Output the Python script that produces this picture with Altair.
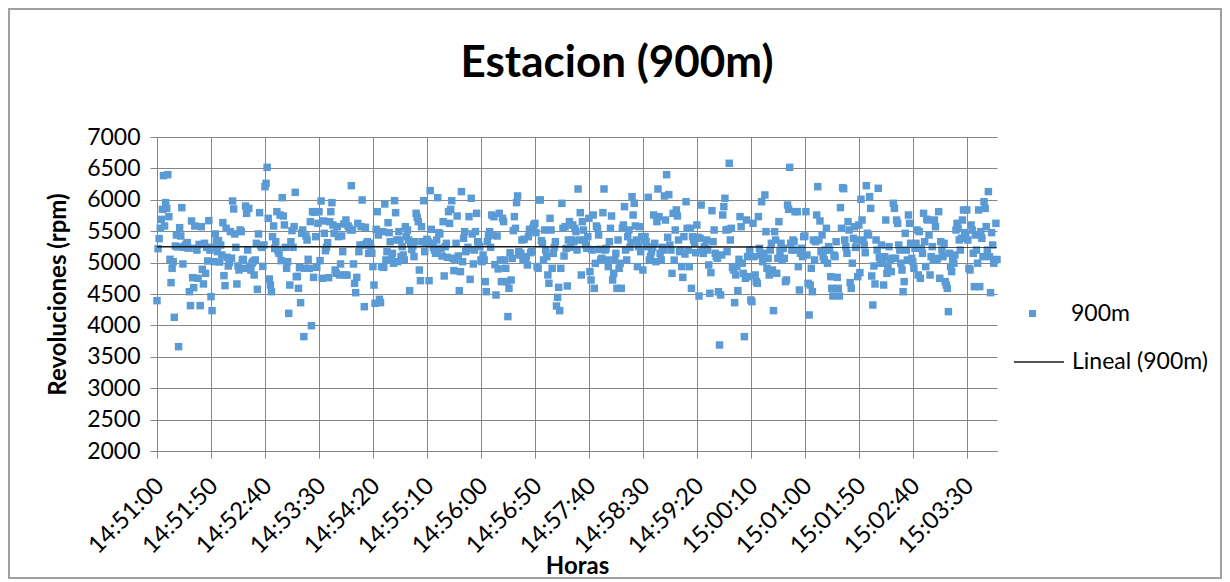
import json
import altair as alt
import pandas as pd

# ---------------- data ----------------
START = "2000-01-01 14:51:00"
TICK_LABELS = ["14:51:00", "14:51:50", "14:52:40", "14:53:30", "14:54:20", "14:55:10",
               "14:56:00", "14:56:50", "14:57:40", "14:58:30", "14:59:20", "15:00:10",
               "15:01:00", "15:01:50", "15:02:40", "15:03:30"]
Y_TICKS = [2000, 2500, 3000, 3500, 4000, 4500, 5000, 5500, 6000, 6500, 7000]

RPM_1 = [
    4394, 5222, 5381, 5546, 5689, 5848, 6385, 5583, 5955, 5864,
    6400, 5732, 5052, 4681, 4909, 5015, 4129, 5264, 5440, 5250,
    3662, 5556, 5424, 5875, 4978, 5243, 5265, 5290, 5318, 5230,
    4537, 4315, 5663, 4760, 4601, 5583, 5227, 5200, 4750, 5290,
    4315, 5572, 4893, 4660, 5307, 4829, 5243, 5026, 5668, 5200,
    4458, 4235, 5243, 5015, 5456, 5333, 5174, 5350, 5010, 5280,
    5121, 5636, 4792, 4633, 5546, 5084, 4946, 5000, 5493, 5070,
    5981, 5854, 5456, 5243, 4660, 4946, 4882, 5519, 5493, 5042,
    5052, 4909, 5901, 5785, 5200, 5864, 4946, 4880, 4990, 5020,
    4803, 5042, 5307, 4574, 5456, 5795, 5270, 5243, 4940, 5280,
    6209, 6262, 6517, 5705, 4739, 4643, 4537, 5413, 5583, 5227,
    5333, 5811, 5190, 5148, 5758, 5031, 6034, 5742, 5600, 5243,
    4909, 5015, 4192, 4643, 5333, 5509, 5243, 5572, 6119, 4776,
    4780, 4590, 4919, 4362, 5466, 5519, 3821, 4910, 5424, 5360,
    5052, 4909, 5652, 3996, 5811, 4765, 5800, 5413, 4925, 5625,
    5811, 5031, 5981, 4750, 5663, 5466, 5190, 5243, 5318, 4760,
    5652, 5811, 5955, 5599, 5466, 4882, 4829, 5572, 5413, 4803,
    4978, 5424, 5174, 5615, 4803, 5678, 4800, 5583, 5546, 5520,
    6225, 5519, 4978, 4670, 4521, 4765, 5625, 5174, 5280, 5572,
    5997, 5280, 4298, 5562, 5307, 5333, 5148, 5307, 5243, 5148,
]
RPM_2 = [
    4936, 4643, 4352, 5530, 5811, 5440, 4415, 4362, 4936, 5493,
    4925, 5933, 5042, 5174, 5636, 5477, 5333, 5050, 5148, 4990,
    5986, 5795, 5360, 5015, 5493, 5360, 5095, 5254, 5121, 5042,
    5572, 5413, 5519, 5360, 4553, 5318, 5211, 5265, 5095, 5333,
    5785, 5721, 5652, 4882, 4712, 5572, 5333, 5986, 5174, 5307,
    5371, 5333, 4712, 6146, 5530, 5307, 5243, 5200, 5148, 5360,
    6034, 5477, 5456, 5227, 5105, 5652, 4787, 5254, 5307, 5084,
    5811, 5625, 5848, 5986, 5068, 4872, 5042, 5307, 5742, 5105,
    4553, 4856, 6130, 5015, 5387, 5493, 5174, 5200, 5243, 5732,
    4734, 6024, 5456, 4978, 5200, 5493, 5785, 5333, 5280, 5254,
    5042, 5015, 5121, 5042, 4697, 4537, 5333, 5424, 5493, 5243,
    5758, 5440, 5730, 4967, 4484, 5424, 4900, 5785, 5042, 4697,
    5705, 5652, 5042, 4909, 4697, 4140, 4590, 5158, 4723, 5068,
    5509, 5732, 5546, 5955, 6061, 5174, 5121, 5148, 5360, 5042,
    5371, 5042, 5095, 4962, 5413, 5530, 5158, 5174, 5546, 5599,
    5625, 5477, 4936, 4909, 5997, 5997, 5350, 5307, 5042, 5519,
    5200, 5095, 4803, 4670, 5705, 5519, 4909, 5148, 5243, 5333,
    4309, 4447, 4606, 4235, 4909, 5944, 5546, 5105, 5572, 5227,
    4628, 5360, 5652, 5243, 5360, 5599, 5333, 5546, 5493, 5200,
    6172, 5360, 5795, 4803, 5652, 5519, 5360, 5280, 5227, 5413,
]
RPM_3 = [
    5705, 4856, 4723, 5200, 5758, 4590, 4988, 5583, 5546, 5440,
    5211, 5042, 5068, 5795, 6172, 5200, 5227, 5042, 4936, 5333,
    5546, 5742, 4723, 4829, 5042, 5148, 4590, 5360, 4909, 4988,
    4590, 5546, 5599, 5891, 5200, 5042, 5413, 5519, 5243, 5318,
    6050, 5758, 5944, 5583, 5360, 4936, 5254, 5572, 5174, 5413,
    4882, 5360, 5413, 5333, 5254, 6039, 5042, 5095, 5174, 5243,
    5758, 5307, 5015, 5652, 6172, 5732, 5148, 5042, 5243, 5200,
    6061, 5678, 6400, 5403, 6082, 5280, 5200, 4829, 5785, 5040,
    5519, 5838, 5742, 5360, 5174, 5200, 4936, 4765, 5413, 5137,
    5970, 5546, 5200, 4936, 5546, 4590, 5413, 5360, 5307, 5158,
    5599, 5403, 4468, 5387, 5917, 5200, 5148, 5254, 5227, 5360,
    5200, 4962, 4511, 4840, 5827, 5333, 5519, 5148, 5095, 5068,
    4537, 3688, 4484, 5121, 5758, 5891, 6024, 5519, 5174, 5530,
    6581, 5360, 5546, 4925, 4882, 4362, 4803, 4936, 4553, 5052,
    5732, 5572, 4990, 4829, 3821, 4750, 5678, 5095, 4776, 5200,
    4405, 4378, 5626, 5095, 4803, 4697, 4670, 5732, 5227, 5121,
    5970, 5015, 5148, 6077, 5493, 4909, 5068, 4803, 5200, 5307,
    4882, 4235, 5493, 5360, 4829, 5068, 5652, 5174, 5307, 5042,
    5227, 5068, 4697, 4723, 5917, 5848, 6517, 5307, 5200, 5360,
    5333, 5811, 5200, 5811, 4936, 4564, 5148, 5227, 5095, 5413,
]
RPM_4 = [
    5424, 5811, 5121, 4670, 4166, 4643, 4909, 4537, 5360, 5042,
    5333, 5758, 6209, 5360, 5663, 5174, 5440, 5095, 5042, 5200,
    5546, 4990, 5254, 5200, 4776, 4590, 4468, 5121, 5095, 5333,
    4765, 4590, 4468, 5875, 5546, 6193, 6177, 5360, 5254, 5148,
    5652, 5519, 4681, 4590, 4990, 5387, 5572, 5243, 5360, 4776,
    5599, 4840, 6008, 5678, 5360, 5280, 5158, 6225, 5466, 5440,
    6050, 5864, 4787, 4325, 4946, 4660, 5360, 5200, 6183, 5084,
    4990, 5280, 4990, 4643, 5095, 5678, 4829, 4936, 5254, 5042,
    4856, 5068, 5944, 5864, 5068, 5678, 5625, 5280, 5200, 4990,
    4882, 4537, 4697, 5466, 5200, 5042, 5758, 5625, 5307, 5068,
    5015, 4909, 5227, 5307, 5519, 4803, 5493, 4750, 5227, 5148,
    5785, 5333, 4936, 5689, 5678, 5440, 4803, 5095, 5254, 5042,
    5678, 5572, 5042, 5068, 5811, 4750, 5333, 5200, 5095, 5307,
    4697, 4643, 4590, 4219, 5148, 4936, 4856, 5042, 4990, 5121,
    5519, 5625, 5546, 5360, 5200, 5387, 5678, 5838, 5477, 5440,
    5838, 5360, 4909, 4882, 5599, 5519, 5148, 4617, 5440, 5200,
    4990, 5838, 4617, 5493, 5387, 5095, 5970, 5864, 5572, 5200,
    6130, 5095, 4521, 5477, 5280, 4990, 5042, 5625, 5050,
]
RPM = RPM_1 + RPM_2 + RPM_3 + RPM_4

SERIE = "900m"
TREND = "Lineal (900m)"

horas = pd.date_range(START, periods=len(RPM), freq="s").strftime("%H:%M:%S")
df = pd.DataFrame({"t": list(range(len(RPM))), "hora": list(horas), "rpm": RPM, "serie": SERIE})

# ---------------- chart ----------------
FONT = "Lato"
W, H = 840, 314
GRID = "#868686"

x_scale = alt.Scale(domain=[0, len(RPM) - 1], nice=False, zero=False)
y_scale = alt.Scale(domain=[2000, 7000], nice=False, zero=False)
label_expr = json.dumps(TICK_LABELS) + "[round(datum.value / 50)]"

x_axis = alt.Axis(
    values=[i * 50 for i in range(len(TICK_LABELS))],
    labelExpr=label_expr, labelAngle=-45, labelAlign="right", labelBaseline="middle",
    labelPadding=24, labelOffset=3, labelFontSize=24, labelOverlap=False, tickSize=7, grid=True,
    title="Horas", titleFontSize=24, titleFontWeight="bold",
    titleY=122, titleBaseline="alphabetic",
)
y_axis = alt.Axis(
    values=Y_TICKS, labelExpr="format(datum.value, 'd')", labelFontSize=23, labelPadding=10,
    labelOverlap=False, tickSize=7, grid=True,
    title="Revoluciones (rpm)", titleFontSize=24, titleFontWeight="bold", titlePadding=16,
)

points = alt.Chart(df).mark_square(size=56, opacity=1).encode(
    x=alt.X("t:Q", scale=x_scale, axis=x_axis),
    y=alt.Y("rpm:Q", scale=y_scale, axis=y_axis),
    color=alt.Color(
        "serie:N",
        scale=alt.Scale(domain=[SERIE], range=["#5B9BD5"]),
        legend=alt.Legend(title=None, orient="none", legendX=864, legendY=165,
                          symbolType="square", symbolSize=49, labelFontSize=23,
                          labelOffset=27, padding=0),
    ),
)

trend = alt.Chart(df).transform_regression("t", "rpm").transform_calculate(
    tipo="'" + TREND + "'"
).mark_line(strokeWidth=1.5).encode(
    x=alt.X("t:Q", scale=x_scale, axis=x_axis),
    y=alt.Y("rpm:Q", scale=y_scale, axis=y_axis),
    stroke=alt.Stroke(
        "tipo:N",
        scale=alt.Scale(domain=[TREND], range=["#1a1a1a"]),
        legend=alt.Legend(title=None, orient="none", legendX=856, legendY=199,
                          symbolType="stroke", symbolSize=2500, symbolStrokeWidth=1.5,
                          labelFontSize=23, labelOffset=7, padding=0),
    ),
)

frame = alt.Chart(alt.Data(values=[{}])).mark_rect(
    fill="transparent", stroke="#a0a0a0", strokeWidth=2
).encode(
    x=alt.value(-148), x2=alt.value(1064), y=alt.value(-128), y2=alt.value(441)
)

chart = alt.layer(frame, points, trend).properties(
    width=W, height=H,
    title=alt.TitleParams("Estacion (900m)", font=FONT, fontSize=44, fontWeight="bold",
                          anchor="middle", dx=40, offset=-113, baseline="alphabetic",
                          color="black"),
    padding={"left": 149, "top": 129, "right": 225, "bottom": 130},
    autosize=alt.AutoSizeParams(type="none"),
).configure_view(
    strokeWidth=0
).configure_axis(
    domainColor=GRID, tickColor=GRID, gridColor=GRID, gridWidth=1,
    labelColor="black", titleColor="black", labelFont=FONT, titleFont=FONT,
).configure_legend(
    labelFont=FONT, labelColor="black"
)

chart.save("out.html", embed_options={"renderer": "svg", "actions": False})
